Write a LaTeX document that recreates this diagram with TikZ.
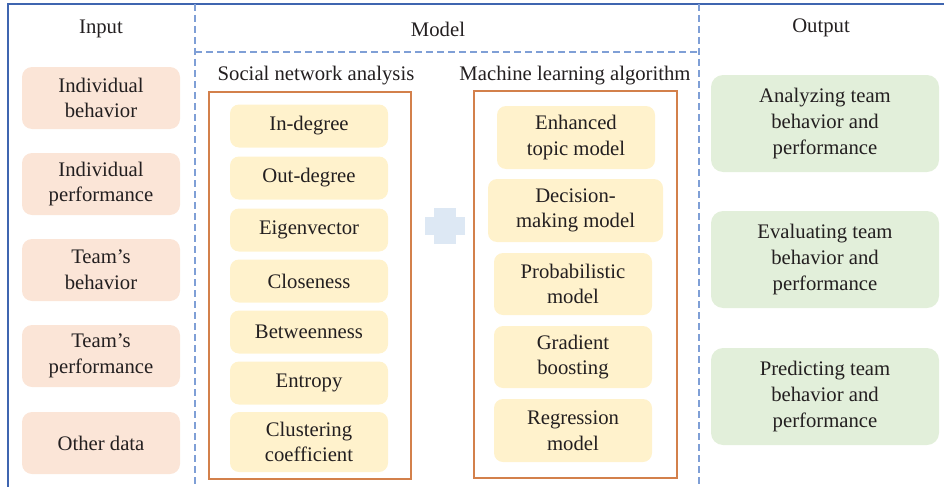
\documentclass[tikz,border=0pt]{standalone}
\usepackage{fontspec}
\setmainfont{Liberation Serif}
\definecolor{frameblue}{HTML}{3F65B0}
\definecolor{dashblue}{HTML}{7F9FD6}
\definecolor{inpfill}{HTML}{FBE5D7}
\definecolor{itemfill}{HTML}{FFF2CC}
\definecolor{outfill}{HTML}{E2EFDA}
\definecolor{orangeline}{HTML}{D3804B}
\definecolor{plusblue}{HTML}{DDE8F4}
\definecolor{txt}{HTML}{231F20}
\begin{document}
\begin{tikzpicture}[x=1pt,y=-1pt,
  every node/.style={text=txt, font=\fontsize{20.7}{25.7}\selectfont, align=center, inner sep=0pt},
  inbox/.style={fill=inpfill, rounded corners=10pt, minimum width=158pt, minimum height=62pt},
  itembox/.style={fill=itemfill, rounded corners=9pt, minimum width=158pt},
  outbox/.style={fill=outfill, rounded corners=12pt, minimum width=228pt, minimum height=97pt},
  dashline/.style={draw=dashblue, line width=1.4pt, dash pattern=on 7pt off 4pt},
  orangeframe/.style={draw=orangeline, line width=1.5pt},
  title/.style={}]
\useasboundingbox (0,0) rectangle (944,487);
% frame lines
\coordinate (tl) at (8,4);
\coordinate (tr) at (944,4);
\coordinate (bl) at (8,487);
\draw[frameblue, line width=1.5pt] (tr) -- (tl) -- (bl);
\coordinate (d1t) at (195,4);
\coordinate (d1b) at (195,487);
\coordinate (d2t) at (699,4);
\coordinate (d2b) at (699,487);
\coordinate (hl) at (195,52);
\coordinate (hr) at (699,52);
\draw[dashline] (d1t) -- (d1b);
\draw[dashline] (d2t) -- (d2b);
\draw[dashline] (hl) -- (hr);
% titles
\node[title] (tin) at (101,29) {Input};
\node[title] (tmod) at (438,29) {Model};
\node[title] (tout) at (821,28) {Output};
\node[title] (tsna) at (316,76) {Social network analysis};
\node[title] (tml) at (575,76) {Machine learning algorithm};
% input boxes
\node[inbox] (i1) at (101,98) {Individual\\behavior};
\node[inbox] (i2) at (101,184) {Individual\\performance};
\node[inbox] (i3) at (101,270) {Team’s\\behavior};
\node[inbox] (i4) at (101,356) {Team’s\\performance};
\node[inbox] (i5) at (101,443) {Other data};
% SNA frame
\node[orangeframe, minimum width=202pt, minimum height=387pt] (snaf) at (310,285.5) {};
\node[itembox, minimum height=43pt] (s1) at (309,126) {In-degree};
\node[itembox, minimum height=43pt] (s2) at (309,178) {Out-degree};
\node[itembox, minimum height=43pt] (s3) at (309,230) {Eigenvector};
\node[itembox, minimum height=43pt] (s4) at (309,281) {Closeness};
\node[itembox, minimum height=43pt] (s5) at (309,332) {Betweenness};
\node[itembox, minimum height=43pt] (s6) at (309,383) {Entropy};
\node[itembox, minimum height=60pt] (s7) at (309,442) {Clustering\\coefficient};
% ML frame
\node[orangeframe, minimum width=203pt, minimum height=387pt] (mlf) at (575.5,284.5) {};
\node[itembox, minimum height=63pt] (m1) at (576,137.5) {Enhanced\\topic model};
\node[itembox, minimum width=175pt, minimum height=63pt] (m2) at (575.5,210.5) {Decision-\\making model};
\node[itembox, minimum height=62pt] (m3) at (573,284) {Probabilistic\\model};
\node[itembox, minimum height=62pt] (m4) at (573,357) {Gradient\\boosting};
\node[itembox, minimum height=63pt] (m5) at (573,430.5) {Regression\\model};
% plus sign
\fill[plusblue] (434,208) rectangle (456,244);
\fill[plusblue] (425,217) rectangle (465,235);
% output boxes
\node[outbox] (o1) at (825,123.5) {Analyzing team\\behavior and\\performance};
\node[outbox] (o2) at (825,259.5) {Evaluating team\\behavior and\\performance};
\node[outbox] (o3) at (825,396.5) {Predicting team\\behavior and\\performance};
\end{tikzpicture}
\end{document}
